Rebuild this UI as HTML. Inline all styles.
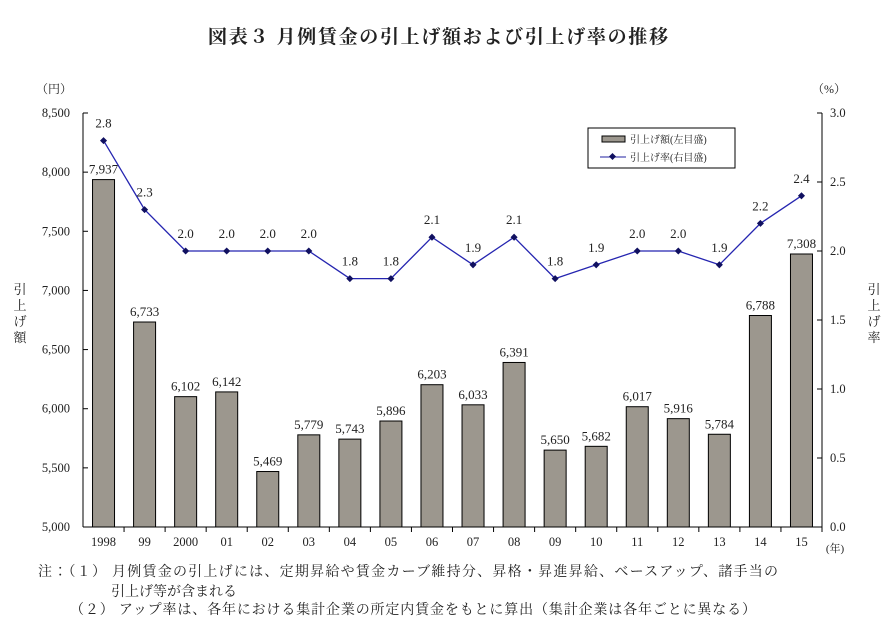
<!DOCTYPE html>
<html><head><meta charset="utf-8"><style>
body{margin:0;background:#fff;}
svg text{font-family:"Liberation Serif","Noto Serif CJK SC",serif;fill:#222;}
.jp{font-family:"Liberation Serif","Noto Serif CJK JP","Noto Serif CJK SC",serif;}
</style></head><body>
<svg id="c" width="892" height="630">
<text x="208" y="43" textLength="460" font-size="19" font-weight="bold" class="jp">図表３ 月例賃金の引上げ額および引上げ率の推移</text>
<text x="54" y="93" font-size="12" class="jp" text-anchor="middle">（円）</text>
<text x="829" y="93" font-size="12" class="jp" text-anchor="middle">（%）</text>
<g font-size="13" class="jp">
<text x="20" y="294" text-anchor="middle">引</text><text x="20" y="310" text-anchor="middle">上</text><text x="20" y="326" text-anchor="middle">げ</text><text x="20" y="342" text-anchor="middle">額</text></g>
<g font-size="13" class="jp">
<text x="874" y="294" text-anchor="middle">引</text><text x="874" y="310" text-anchor="middle">上</text><text x="874" y="326" text-anchor="middle">げ</text><text x="874" y="342" text-anchor="middle">率</text></g>
<g id="g"></g>
<rect x="588" y="128" width="147" height="40" fill="#fff" stroke="#000" stroke-width="1"/>
<rect x="602" y="136" width="23" height="6" fill="#9c978e" stroke="#000"/>
<text x="630" y="143" font-size="10" class="jp">引上げ額(左目盛)</text>
<line x1="600" y1="157" x2="626" y2="157" stroke="#2020a0"/>
<rect x="610" y="154" width="5" height="5" fill="#101060" transform="rotate(45 612.5 156.5)"/>
<text x="630" y="161" font-size="10" class="jp">引上げ率(右目盛)</text>
<text x="38" y="576" textLength="740" font-size="14" class="jp">注：（１） 月例賃金の引上げには、定期昇給や賃金カーブ維持分、昇格・昇進昇給、ベースアップ、諸手当の</text>
<text x="111" y="596" font-size="14" class="jp">引上げ等が含まれる</text>
<text x="70" y="614" textLength="686" font-size="14" class="jp">（２） アップ率は、各年における集計企業の所定内賃金をもとに算出（集計企業は各年ごとに異なる）</text>
<text x="835" y="552" font-size="11" class="jp" text-anchor="middle">(年)</text>
</svg>
<script>
const categories=["1998","99","2000","01","02","03","04","05","06","07","08","09","10","11","12","13","14","15"];
const amounts=[7937,6733,6102,6142,5469,5779,5743,5896,6203,6033,6391,5650,5682,6017,5916,5784,6788,7308];
const rates=[2.8,2.3,2.0,2.0,2.0,2.0,1.8,1.8,2.1,1.9,2.1,1.8,1.9,2.0,2.0,1.9,2.2,2.4];
const leftTicks=[5000,5500,6000,6500,7000,7500,8000,8500];
const rightTicks=[0,0.5,1.0,1.5,2.0,2.5,3.0];
const L=83,R=822,T=113,B=527;
const yL=v=>B-(v-5000)/3500*(B-T);
const yR=v=>B-v/3*(B-T);
const bw=(R-L)/categories.length;
const xC=i=>L+bw*(i+0.5);
const g=document.getElementById('g');
const NS="http://www.w3.org/2000/svg";
function mk(t,a,txt){const e=document.createElementNS(NS,t);for(const k in a)e.setAttribute(k,a[k]);if(txt!=null)e.textContent=txt;g.appendChild(e);return e;}
let e;
e=mk('line',{x1:L,y1:T,x2:L,y2:B,stroke:'#000'});


e=mk('line',{x1:R,y1:T,x2:R,y2:B,stroke:'#000'});


e=mk('line',{x1:L,y1:B,x2:R,y2:B,stroke:'#000'});


leftTicks.forEach(v=>{const y=yL(v);
e=mk('line',{x1:L,y1:y,x2:L+5,y2:y,stroke:'#000'});


e=mk('text',{x:L-13,y:y+4,'font-size':12.5,'text-anchor':'end'},v.toLocaleString('en-US'));

});
rightTicks.forEach(v=>{const y=yR(v);
e=mk('line',{x1:R-5,y1:y,x2:R,y2:y,stroke:'#000'});


e=mk('text',{x:R+8,y:y+4,'font-size':12.5},v.toFixed(1));

});
categories.forEach((c,i)=>{const x=xC(i);
e=mk('line',{x1:L+bw*(i+1),y1:B,x2:L+bw*(i+1),y2:B+5,stroke:'#000'});


e=mk('text',{x:x,y:B+19,'font-size':12.5,'text-anchor':'middle'},c);


const y=yL(amounts[i]);
e=mk('rect',{x:x-11,y:y,width:22,height:B-y,fill:'#9c978e',stroke:'#000','stroke-width':1});


e=mk('text',{x:x,y:y-6,'font-size':13,'text-anchor':'middle'},amounts[i].toLocaleString('en-US'));

});
e=mk('polyline',{points:rates.map((r,i)=>xC(i)+','+yR(r)).join(' '),fill:'none',stroke:'#2525b0','stroke-width':1.3});


rates.forEach((r,i)=>{const x=xC(i),y=yR(r);
e=mk('rect',{x:x-2.5,y:y-2.5,width:5,height:5,fill:'#101060',transform:`rotate(45 ${x} ${y})`});


e=mk('text',{x:x,y:y-13,'font-size':13,'text-anchor':'middle'},r.toFixed(1));

});
</script>
</body></html>
